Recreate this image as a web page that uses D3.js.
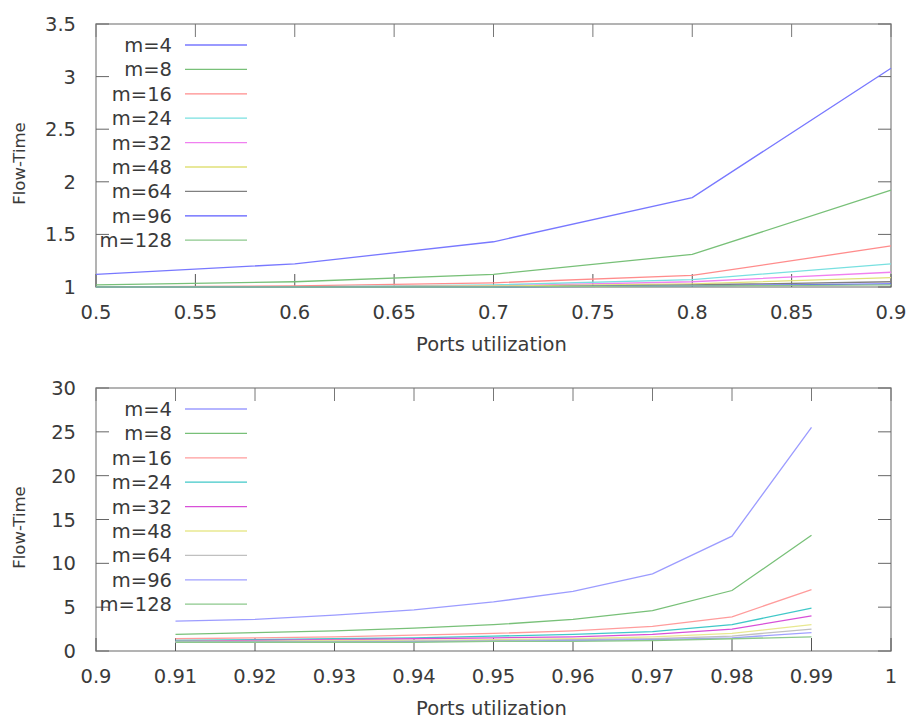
<!DOCTYPE html>
<meta charset="utf-8">
<head>
  <title>Flow-Time vs Ports utilization</title>
  <script src="https://cdn.jsdelivr.net/npm/d3@7"></script>
  <style>
    body { margin: 0; background: #fff; }
    svg text { font-family: "DejaVu Sans", sans-serif; fill: #3a3a3a; }
  </style>
</head>
<body>
<svg width="909" height="722"></svg>
<script>

  // series names, shared by both panels
  var names = ["m=4", "m=8", "m=16", "m=24", "m=32", "m=48", "m=64", "m=96", "m=128"];

  // top panel: moderate load
  var xTop = [0.5, 0.6, 0.7, 0.8, 0.9];
  var yTop = [
    [1.12, 1.22, 1.43, 1.85, 3.08],
    [1.02, 1.05, 1.12, 1.31, 1.92],
    [1.00, 1.01, 1.04, 1.11, 1.39],
    [1.00, 1.00, 1.02, 1.07, 1.22],
    [1.00, 1.00, 1.01, 1.05, 1.14],
    [1.00, 1.00, 1.01, 1.03, 1.09],
    [1.00, 1.00, 1.00, 1.02, 1.05],
    [1.00, 1.00, 1.00, 1.01, 1.03],
    [1.00, 1.00, 1.00, 1.01, 1.02]
  ];
  var xTicksTop = [0.5, 0.55, 0.6, 0.65, 0.7, 0.75, 0.8, 0.85, 0.9];
  var yTicksTop = [1, 1.5, 2, 2.5, 3, 3.5];
  var colorsTop = ["#7878ff", "#78c078", "#ff8c8c", "#78e0e0", "#f080f0", "#e0e078", "#808080", "#5c5cff", "#8cc88c"];

  // bottom panel: heavy load
  var xBot = [0.91, 0.92, 0.93, 0.94, 0.95, 0.96, 0.97, 0.98, 0.99];
  var yBot = [
    [3.4, 3.6, 4.1, 4.7, 5.6, 6.8, 8.8, 13.1, 25.5],
    [1.9, 2.1, 2.3, 2.6, 3.0, 3.6, 4.6, 6.9, 13.2],
    [1.4, 1.5, 1.6, 1.8, 2.0, 2.3, 2.8, 3.9, 7.0],
    [1.2, 1.3, 1.4, 1.5, 1.7, 1.9, 2.2, 3.0, 4.9],
    [1.1, 1.2, 1.3, 1.4, 1.5, 1.6, 1.9, 2.5, 4.0],
    [1.1, 1.1, 1.2, 1.2, 1.3, 1.4, 1.6, 2.0, 3.0],
    [1.0, 1.1, 1.1, 1.1, 1.2, 1.3, 1.4, 1.7, 2.5],
    [1.0, 1.0, 1.0, 1.1, 1.1, 1.2, 1.3, 1.5, 2.1],
    [1.0, 1.0, 1.0, 1.0, 1.1, 1.1, 1.2, 1.4, 1.6]
  ];
  var xTicksBot = [0.9, 0.91, 0.92, 0.93, 0.94, 0.95, 0.96, 0.97, 0.98, 0.99, 1];
  var yTicksBot = [0, 5, 10, 15, 20, 25, 30];
  var colorsBot = ["#9c9cff", "#78c078", "#ff9c9c", "#40c8c8", "#d850d8", "#e8e890", "#c0c0c0", "#a0a0ff", "#8cc88c"];

  var svg = d3.select("svg");
  var fs = 19.5;

  function panel(top, xs, ys, xTicks, yTicks, xDomain, yDomain, colors) {
    var left = 96, right = 891, h = 263;
    var x = d3.scaleLinear().domain(xDomain).range([left, right]);
    var y = d3.scaleLinear().domain(yDomain).range([top + h, top]);
    var g = svg.append("g");

    // frame
    g.append("rect")
      .attr("x", left).attr("y", top)
      .attr("width", right - left).attr("height", h)
      .attr("fill", "none").attr("stroke", "#9a9a9a").attr("stroke-width", 1.5);

    // inward ticks, mirrored
    var tl = 13;
    xTicks.forEach(function(t) {
      g.append("line").attr("x1", x(t)).attr("x2", x(t))
        .attr("y1", top + h).attr("y2", top + h - tl)
        .attr("stroke", "#555");
      g.append("line").attr("x1", x(t)).attr("x2", x(t))
        .attr("y1", top).attr("y2", top + tl)
        .attr("stroke", "#777");
      g.append("text").attr("x", x(t)).attr("y", top + h + 32)
        .attr("text-anchor", "middle").attr("font-size", fs)
        .text(+t.toFixed(2));
    });
    yTicks.forEach(function(t) {
      g.append("line").attr("x1", left).attr("x2", left + tl)
        .attr("y1", y(t)).attr("y2", y(t)).attr("stroke", "#666");
      g.append("line").attr("x1", right).attr("x2", right - tl)
        .attr("y1", y(t)).attr("y2", y(t)).attr("stroke", "#666");
      g.append("text").attr("x", 76).attr("y", y(t) + 7)
        .attr("text-anchor", "end").attr("font-size", fs)
        .text(t);
    });

    // axis titles
    g.append("text").attr("x", (left + right) / 2 - 2).attr("y", top + h + 64)
      .attr("text-anchor", "middle").attr("font-size", fs)
      .text("Ports utilization");
    g.append("text")
      .attr("transform", "translate(25," + (top + h / 2 + 8) + ") rotate(-90)")
      .attr("text-anchor", "middle").attr("font-size", 16.5)
      .text("Flow-Time");

    // series
    var line = d3.line()
      .x(function(d, i) { return x(xs[i]); })
      .y(function(d) { return y(d); });
    g.selectAll("path.series")
      .data(ys)
      .enter()
      .append("path")
        .attr("class", "series")
        .attr("d", line)
        .attr("fill", "none")
        .attr("stroke", function(d, i) { return colors[i]; })
        .attr("stroke-width", 1.3);

    // legend
    var leg = g.selectAll("g.leg")
      .data(names)
      .enter()
      .append("g")
        .attr("class", "leg")
        .attr("transform", function(d, i) { return "translate(0," + (top + 21 + i * 24.4) + ")"; });
    leg.append("text").attr("x", 172).attr("y", 7)
      .attr("text-anchor", "end").attr("font-size", fs)
      .text(function(d) { return d; });
    leg.append("line").attr("x1", 185).attr("x2", 247)
      .attr("y1", 0).attr("y2", 0)
      .attr("stroke", function(d, i) { return colors[i]; })
      .attr("stroke-width", 1.3);
  }

  panel(24, xTop, yTop, xTicksTop, yTicksTop, [0.5, 0.9], [1, 3.5], colorsTop);
  panel(388, xBot, yBot, xTicksBot, yTicksBot, [0.9, 1], [0, 30], colorsBot);

</script>
</body>
</html>
